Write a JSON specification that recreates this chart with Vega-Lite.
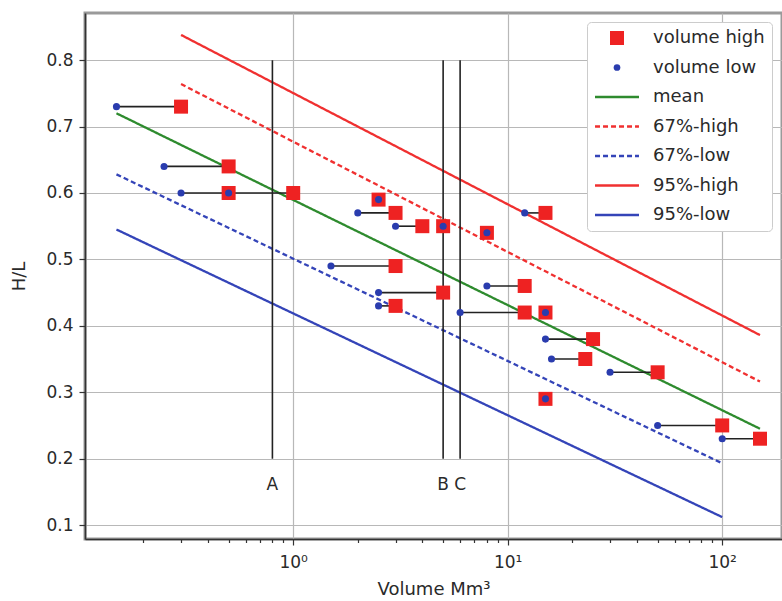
{
  "$schema": "https://vega.github.io/schema/vega-lite/v6.json",
  "width": 697,
  "height": 526,
  "autosize": "none",
  "padding": {"left": 85, "top": 13, "right": 0, "bottom": 62},
  "background": "white",
  "config": {
    "view": {"stroke": "#9a9a9a", "strokeWidth": 3},
    "font": "DejaVu Sans",
    "axis": {
      "domainColor": "#333333",
      "domainWidth": 1.6,
      "tickColor": "#333333",
      "tickWidth": 1.2,
      "gridColor": "#b8b8b8",
      "gridWidth": 1.2,
      "labelFont": "DejaVu Sans",
      "labelFontSize": 17,
      "labelColor": "#2a2a2a",
      "titleFont": "DejaVu Sans",
      "titleFontSize": 18,
      "titleFontWeight": "normal",
      "titleColor": "#2a2a2a"
    }
  },
  "datasets": {
    "pairs": [
      {"low": 0.15, "high": 0.3, "hl": 0.73},
      {"low": 0.25, "high": 0.5, "hl": 0.64},
      {"low": 0.3, "high": 1.0, "hl": 0.60},
      {"low": 0.5, "high": 0.5, "hl": 0.60},
      {"low": 2.5, "high": 2.5, "hl": 0.59},
      {"low": 2.0, "high": 3.0, "hl": 0.57},
      {"low": 3.0, "high": 4.0, "hl": 0.55},
      {"low": 5.0, "high": 5.0, "hl": 0.55},
      {"low": 8.0, "high": 8.0, "hl": 0.54},
      {"low": 12, "high": 15, "hl": 0.57},
      {"low": 1.5, "high": 3.0, "hl": 0.49},
      {"low": 2.5, "high": 5.0, "hl": 0.45},
      {"low": 2.5, "high": 3.0, "hl": 0.43},
      {"low": 8.0, "high": 12, "hl": 0.46},
      {"low": 6.0, "high": 12, "hl": 0.42},
      {"low": 15, "high": 15, "hl": 0.42},
      {"low": 15, "high": 25, "hl": 0.38},
      {"low": 16, "high": 23, "hl": 0.35},
      {"low": 30, "high": 50, "hl": 0.33},
      {"low": 15, "high": 15, "hl": 0.29},
      {"low": 50, "high": 100, "hl": 0.25},
      {"low": 100, "high": 150, "hl": 0.23}
    ],
    "bands": [
      {"series": "mean", "v": 0.15, "hl": 0.72},
      {"series": "mean", "v": 150, "hl": 0.245},
      {"series": "67%-high", "v": 0.3, "hl": 0.764},
      {"series": "67%-high", "v": 150, "hl": 0.316},
      {"series": "67%-low", "v": 0.15, "hl": 0.628},
      {"series": "67%-low", "v": 100, "hl": 0.193},
      {"series": "95%-high", "v": 0.3, "hl": 0.838},
      {"series": "95%-high", "v": 150, "hl": 0.386},
      {"series": "95%-low", "v": 0.15, "hl": 0.545},
      {"series": "95%-low", "v": 100, "hl": 0.112}
    ],
    "markers": [
      {"label": "A", "v": 0.8, "bottom": 0.2, "top": 0.8, "labelAt": 0.16},
      {"label": "B", "v": 5.0, "bottom": 0.2, "top": 0.8, "labelAt": 0.16},
      {"label": "C", "v": 6.0, "bottom": 0.2, "top": 0.8, "labelAt": 0.16}
    ]
  },
  "layer": [
    {
      "data": {"name": "bands"},
      "mark": {"type": "line", "strokeWidth": 2.3},
      "encoding": {
        "x": {
          "field": "v",
          "type": "quantitative",
          "scale": {"type": "log", "domain": [0.107, 190], "nice": false},
          "axis": {
            "title": "Volume Mm³",
            "titlePadding": 10,
            "values": [0.2, 0.3, 0.4, 0.5, 0.6, 0.7, 0.8, 0.9, 1, 2, 3, 4, 5, 6, 7, 8, 9, 10, 20, 30, 40, 50, 60, 70, 80, 90, 100],
            "labelExpr": "datum.value == 1 ? '10⁰' : datum.value == 10 ? '10¹' : datum.value == 100 ? '10²' : ''",
            "labelOverlap": false,
            "labelFlush": false,
            "labelPadding": 9,
            "grid": true,
            "gridOpacity": {"condition": {"test": "datum.value == 1 || datum.value == 10 || datum.value == 100", "value": 1}, "value": 0},
            "tickSize": {"condition": {"test": "datum.value == 1 || datum.value == 10 || datum.value == 100", "value": 6}, "value": 3.5}
          }
        },
        "y": {
          "field": "hl",
          "type": "quantitative",
          "scale": {"domain": [0.079, 0.871], "nice": false, "zero": false},
          "axis": {
            "title": "H/L",
            "values": [0.1, 0.2, 0.3, 0.4, 0.5, 0.6, 0.7, 0.8],
            "format": ".1f",
            "tickSize": 6,
            "labelPadding": 6,
            "titlePadding": 17,
            "grid": true
          }
        },
        "color": {
          "field": "series",
          "type": "nominal",
          "scale": {
            "domain": ["volume high", "volume low", "mean", "67%-high", "67%-low", "95%-high", "95%-low"],
            "range": ["#ee2222", "#2a3cae", "#2e8b2e", "#f03030", "#3444b8", "#f03030", "#3444b8"]
          },
          "legend": {
            "title": null,
            "orient": "none",
            "legendX": 502,
            "legendY": 9,
            "padding": 7,
            "strokeColor": "#cccccc",
            "fillColor": "#ffffff",
            "cornerRadius": 4,
            "labelFont": "DejaVu Sans",
            "labelFontSize": 18,
            "labelColor": "#2a2a2a",
            "symbolSize": 196,
            "symbolOffset": 14,
            "labelOffset": 27,
            "rowPadding": 11.5,
            "encode": {
              "symbols": {
                "update": {
                  "shape": {"signal": "datum.value == 'volume high' ? 'square' : datum.value == 'volume low' ? 'circle' : 'M-3.14,0H3.14'"},
                  "size": {"signal": "datum.value == 'volume low' ? 45 : 196"},
                  "fill": {"signal": "(datum.value == 'volume high' || datum.value == 'volume low') ? scale('color', datum.value) : 'transparent'"},
                  "stroke": {"signal": "scale('color', datum.value)"},
                  "strokeWidth": {"signal": "(datum.value == 'volume high' || datum.value == 'volume low') ? 0 : 2.3"},
                  "strokeDash": {"signal": "(datum.value == '67%-high' || datum.value == '67%-low') ? [5, 3] : [1, 0]"},
                  "opacity": {"value": 1}
                }
              }
            }
          }
        },
        "strokeDash": {
          "field": "series",
          "type": "nominal",
          "scale": {
            "domain": ["mean", "67%-high", "67%-low", "95%-high", "95%-low"],
            "range": [[1, 0], [5, 3], [5, 3], [1, 0], [1, 0]]
          },
          "legend": null
        }
      }
    },
    {
      "data": {"name": "markers"},
      "mark": {"type": "rule", "color": "#222222", "strokeWidth": 1.6},
      "encoding": {
        "x": {"field": "v", "type": "quantitative"},
        "y": {"field": "bottom", "type": "quantitative"},
        "y2": {"field": "top"}
      }
    },
    {
      "data": {"name": "markers"},
      "mark": {"type": "text", "fontSize": 17, "color": "#2a2a2a", "font": "DejaVu Sans"},
      "encoding": {
        "x": {"field": "v", "type": "quantitative"},
        "y": {"field": "labelAt", "type": "quantitative"},
        "text": {"field": "label"}
      }
    },
    {
      "data": {"name": "pairs"},
      "mark": {"type": "rule", "color": "#222222", "strokeWidth": 1.6},
      "encoding": {
        "x": {"field": "low", "type": "quantitative"},
        "x2": {"field": "high"},
        "y": {"field": "hl", "type": "quantitative"}
      }
    },
    {
      "data": {"name": "pairs"},
      "mark": {"type": "point", "shape": "square", "filled": true, "size": 196, "opacity": 1},
      "encoding": {
        "x": {"field": "high", "type": "quantitative"},
        "y": {"field": "hl", "type": "quantitative"},
        "color": {"datum": "volume high"}
      }
    },
    {
      "data": {"name": "pairs"},
      "mark": {"type": "point", "shape": "circle", "filled": true, "size": 50, "opacity": 1},
      "encoding": {
        "x": {"field": "low", "type": "quantitative"},
        "y": {"field": "hl", "type": "quantitative"},
        "color": {"datum": "volume low"}
      }
    }
  ]
}
